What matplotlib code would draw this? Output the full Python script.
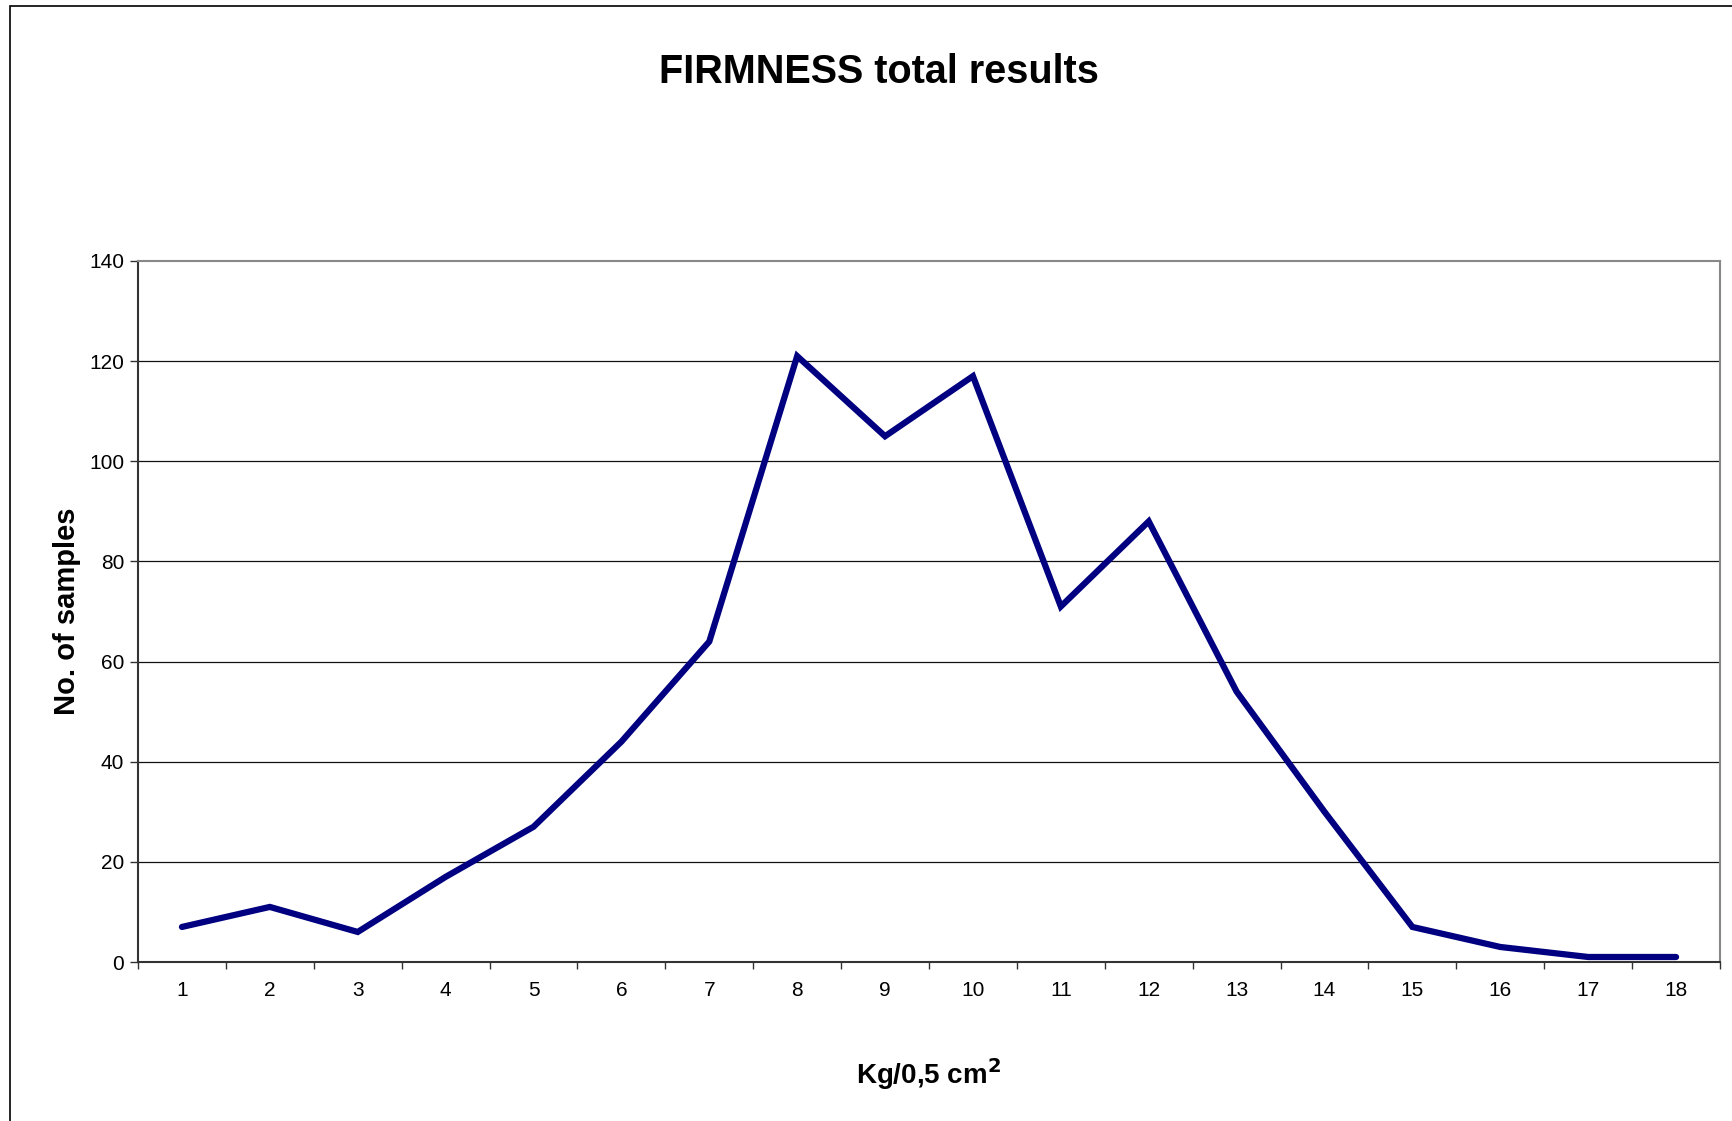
import matplotlib
matplotlib.use("Agg")
import matplotlib.pyplot as plt
from matplotlib.patches import Rectangle
import numpy as np

categories = [str(i) for i in range(1, 19)]
samples = [7, 11, 6, 17, 27, 44, 64, 121, 105, 117, 71, 88, 54, 30, 7, 3, 1, 1]
y_ticks = [0, 20, 40, 60, 80, 100, 120, 140]

W, H = 1733, 1121
fig = plt.figure(figsize=(W / 100, H / 100), dpi=100)
plt.rcParams['font.family'] = ['Liberation Sans', 'DejaVu Sans']

# figure frame (left/top visible)
fig.patches.append(Rectangle((10 / W, -0.1), 1.2, (H - 6) / H + 0.1,
                             transform=fig.transFigure, fill=False,
                             edgecolor='black', linewidth=1.2))

left, right, top, bottom = 138, 1720, 261, 962
ax = fig.add_axes([left / W, 1 - bottom / H, (right - left) / W, (bottom - top) / H])

x = np.arange(1, len(categories) + 1)
ax.plot(x, samples, color='#000080', linewidth=4.5, solid_joinstyle='miter',
        solid_capstyle='round', zorder=3)

ax.set_xlim(0.5, len(categories) + 0.5)
ax.set_ylim(0, 140)
ax.set_yticks(y_ticks)
ax.set_yticklabels([str(v) for v in y_ticks], fontsize=15)

ax.set_xticks(np.arange(0.5, len(categories) + 1, 1.0))
ax.set_xticklabels([])
ax.set_xticks(x, minor=True)
ax.set_xticklabels(categories, minor=True, fontsize=15)
ax.tick_params(axis='x', which='major', direction='out', length=5, width=1.0, color='#333333')
ax.tick_params(axis='x', which='minor', length=0, pad=14)
ax.tick_params(axis='y', direction='out', length=6, width=1.0, color='#333333', pad=4)

for v in y_ticks[1:-1]:
    ax.axhline(v, color='#111111', linewidth=0.9, zorder=1)

ax.spines['left'].set_color('#333333')
ax.spines['left'].set_linewidth(1.5)
ax.spines['bottom'].set_color('#333333')
ax.spines['bottom'].set_linewidth(1.5)
ax.spines['top'].set_color('#888888')
ax.spines['top'].set_linewidth(1.5)
ax.spines['right'].set_color('#888888')
ax.spines['right'].set_linewidth(1.5)

ax.set_ylabel('No. of samples', fontsize=21, fontweight='bold')
ax.yaxis.set_label_coords((81 - left) / (right - left), 0.5)

fig.text(929 / W, 1 - 1074 / H, r'Kg/0,5 cm$^{\mathbf{2}}$', ha='center', va='center',
         fontsize=20, fontweight='bold')
fig.text(879 / W, 1 - 72 / H, 'FIRMNESS total results', ha='center', va='center',
         fontsize=28.5, fontweight='bold')

fig.savefig('out.png', dpi=100)
